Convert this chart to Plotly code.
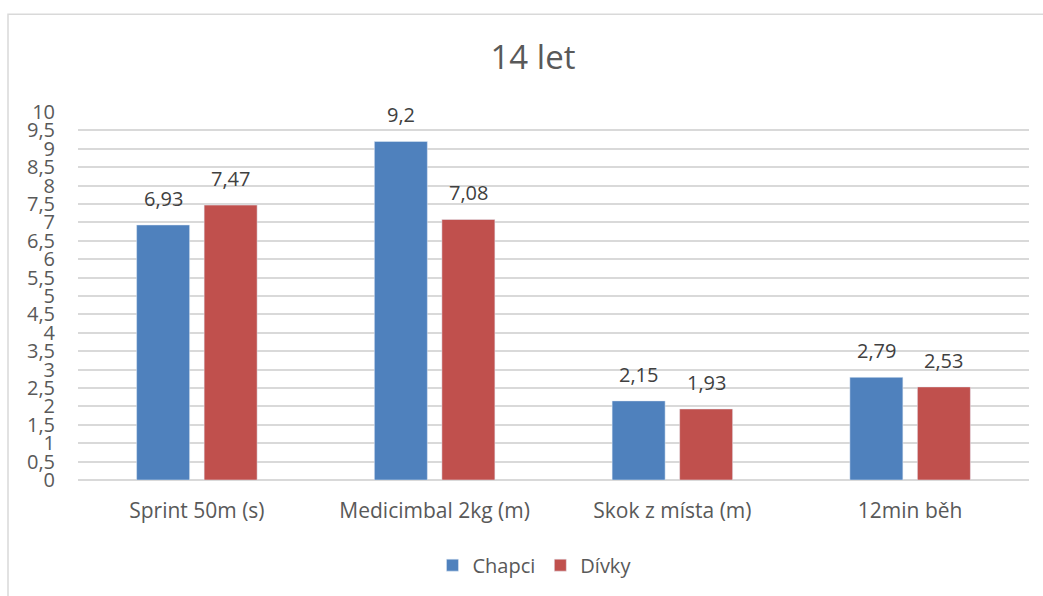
import plotly.graph_objects as go

categories = ["Sprint 50m (s)", "Medicimbal 2kg (m)", "Skok z místa (m)", "12min běh"]
chapci = [6.93, 9.2, 2.15, 2.79]
divky = [7.47, 7.08, 1.93, 2.53]
tick_values = [i * 0.5 for i in range(21)]
tick_labels = [("%g" % v).replace(".", ",") for v in tick_values]

FONT = "Open Sans"
TEXT = "#595959"
LABEL = "#404040"


def fmt(v):
    return ("%g" % v).replace(".", ",")


fig = go.Figure()
fig.add_trace(go.Bar(name="Chapci", x=categories, y=chapci, marker_color="#4F81BD"))
fig.add_trace(go.Bar(name="Dívky", x=categories, y=divky, marker_color="#C0504D"))

# value labels above each bar (offset to the bar's slot inside the group)
annotations = []
for values, shift in ((chapci, -33.75), (divky, 33.75)):
    for cat, v in zip(categories, values):
        annotations.append(dict(
            x=cat, y=v, xref="x", yref="y", text=fmt(v), showarrow=False,
            xanchor="center", yanchor="bottom", xshift=shift, yshift=11,
            font=dict(size=20, color=LABEL, family=FONT),
        ))

fig.update_layout(
    width=1043, height=596,
    margin=dict(l=78, r=14, t=112, b=115),
    paper_bgcolor="white", plot_bgcolor="white",
    barmode="group", bargap=0.432, bargroupgap=0.215,
    font=dict(family=FONT, color=TEXT, size=19),
    title=dict(text="14 let", x=0.511, xanchor="center", y=0.904, yanchor="middle",
               font=dict(size=33, color=TEXT, family=FONT)),
    showlegend=True,
    legend=dict(orientation="h", x=0.48, xanchor="center", y=-0.228, yanchor="middle",
                font=dict(size=20, color=TEXT, family=FONT), itemwidth=30),
    annotations=annotations,
    shapes=[dict(type="rect", xref="paper", yref="paper",
                 x0=-0.0736, x1=1.1, y0=-0.5, y1=1.2656,
                 line=dict(color="#D9D9D9", width=1.5), fillcolor="rgba(0,0,0,0)",
                 layer="below")],
)
fig.update_xaxes(showgrid=False, showline=False, ticks="", tickfont=dict(size=21, color=TEXT),
                 ticklabelstandoff=16)
fig.update_yaxes(range=[0, 10], tickvals=tick_values, ticktext=tick_labels,
                 showgrid=True, gridcolor="#D9D9D9", gridwidth=1.5,
                 zeroline=True, zerolinecolor="#D9D9D9", zerolinewidth=1.5,
                 showline=False, ticks="", tickfont=dict(size=20, color=TEXT),
                 ticklabelstandoff=22)

fig.write_html("out.html")
